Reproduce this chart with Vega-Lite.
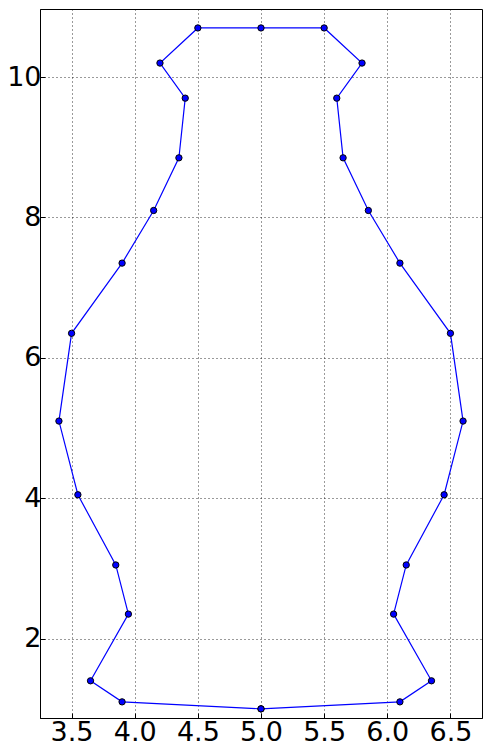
{
  "$schema": "https://vega.github.io/schema/vega-lite/v6.json",
  "autosize": "none",
  "width": 442,
  "height": 709,
  "padding": {"left": 40, "top": 9, "right": 7, "bottom": 33},
  "background": "white",
  "config": {
    "view": {"stroke": "black", "strokeWidth": 1},
    "axis": {
      "labelFont": "DejaVu Sans",
      "labelFontSize": 27,
      "labelColor": "black",
      "domainColor": "black",
      "tickColor": "black",
      "tickSize": -5,
      "gridColor": "black",
      "gridDash": [1, 3],
      "gridWidth": 0.8,
      "gridOpacity": 1,
      "title": null
    }
  },
  "data": {
    "values": [
      {"i": 0, "x": 5.0, "y": 1.0},
      {"i": 1, "x": 6.1, "y": 1.1},
      {"i": 2, "x": 6.35, "y": 1.4},
      {"i": 3, "x": 6.05, "y": 2.35},
      {"i": 4, "x": 6.15, "y": 3.05},
      {"i": 5, "x": 6.45, "y": 4.05},
      {"i": 6, "x": 6.6, "y": 5.1},
      {"i": 7, "x": 6.5, "y": 6.35},
      {"i": 8, "x": 6.1, "y": 7.35},
      {"i": 9, "x": 5.85, "y": 8.1},
      {"i": 10, "x": 5.65, "y": 8.85},
      {"i": 11, "x": 5.6, "y": 9.7},
      {"i": 12, "x": 5.8, "y": 10.2},
      {"i": 13, "x": 5.5, "y": 10.7},
      {"i": 14, "x": 5.0, "y": 10.7},
      {"i": 15, "x": 4.5, "y": 10.7},
      {"i": 16, "x": 4.2, "y": 10.2},
      {"i": 17, "x": 4.4, "y": 9.7},
      {"i": 18, "x": 4.35, "y": 8.85},
      {"i": 19, "x": 4.15, "y": 8.1},
      {"i": 20, "x": 3.9, "y": 7.35},
      {"i": 21, "x": 3.5, "y": 6.35},
      {"i": 22, "x": 3.4, "y": 5.1},
      {"i": 23, "x": 3.55, "y": 4.05},
      {"i": 24, "x": 3.85, "y": 3.05},
      {"i": 25, "x": 3.95, "y": 2.35},
      {"i": 26, "x": 3.65, "y": 1.4},
      {"i": 27, "x": 3.9, "y": 1.1},
      {"i": 28, "x": 5.0, "y": 1.0}
    ]
  },
  "encoding": {
    "x": {
      "field": "x",
      "type": "quantitative",
      "scale": {"domain": [3.25, 6.75], "nice": false, "zero": false},
      "axis": {"values": [3.5, 4.0, 4.5, 5.0, 5.5, 6.0, 6.5], "format": ".1f", "labelPadding": 6, "labelFlush": false}
    },
    "y": {
      "field": "y",
      "type": "quantitative",
      "scale": {"domain": [0.87, 10.97], "nice": false, "zero": false},
      "axis": {"values": [2, 4, 6, 8, 10], "format": "d", "labelPadding": 4, "labelFlush": false}
    },
    "order": {"field": "i", "type": "quantitative"}
  },
  "layer": [
    {"mark": {"type": "line", "color": "#0000ff", "strokeWidth": 1.2}},
    {"mark": {"type": "point", "shape": "circle", "filled": true, "fill": "#0000ff", "stroke": "black", "strokeWidth": 1, "size": 40, "opacity": 1}}
  ]
}
